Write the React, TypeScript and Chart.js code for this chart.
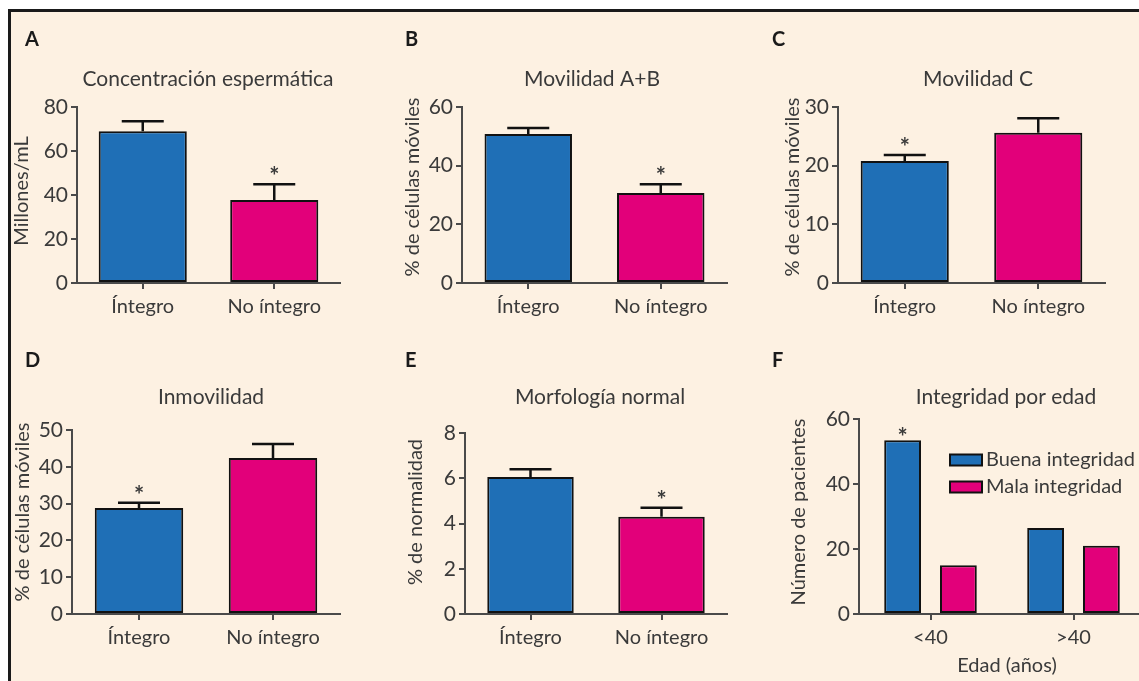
import React, { useEffect, useRef } from "react";
import { Chart, registerables } from "chart.js";
Chart.register(...registerables);

const FONT = "Lato, 'Open Sans', sans-serif";
const TEXT = "#3a3a3a";
const AXIS = "#4a4a4a";
const BLUE = "#1f6fb6";
const PINK = "#e2007a";
const CREAM = "#fdf1e2";

// ---- data ----
const groupLabels = ["Íntegro", "No íntegro"];
const concValues = [69, 37.7];
const concErr = [4.5, 7.2];
const concSig = [false, true];
const movABValues = [50.8, 30.7];
const movABErr = [2.0, 3.0];
const movABSig = [false, true];
const movCValues = [20.8, 25.6];
const movCErr = [1.0, 2.5];
const movCSig = [true, false];
const inmovValues = [28.8, 42.4];
const inmovErr = [1.4, 3.8];
const inmovSig = [true, false];
const morfValues = [6.05, 4.3];
const morfErr = [0.35, 0.4];
const morfSig = [false, true];
const ageLabels = ["<40", ">40"];
const buenaValues = [53.5, 26.5];
const malaValues = [15, 21];
const buenaSig = [true, false];
const malaSig = [false, false];

type Box = { left: number; top: number; width: number; height: number };
type Spec = {
  letter: string; letterPos: [number, number];
  title: string; titlePos: [number, number];
  yTitle: string; yTitlePos: [number, number];
  xTitle?: string; xTitlePos?: [number, number];
  labels: string[];
  datasets: { label: string; data: number[]; color: string | string[]; err?: number[]; sig?: boolean[] }[];
  yMax: number; yStep: number;
  box: Box; area: { left: number; right: number; top: number; bottom: number };
  barPct: number; catPct: number;
  legend?: { x: number; y: number; dy: number };
};

const twoColors = [BLUE, PINK];

const specs: Spec[] = [
  {
    letter: "A", letterPos: [25, 40], title: "Concentración espermática", titlePos: [208, 79],
    yTitle: "Millones/mL", yTitlePos: [22, 191], labels: groupLabels,
    datasets: [{ label: "A", data: concValues, color: twoColors, err: concErr, sig: concSig }],
    yMax: 80, yStep: 20, box: { left: 12, top: 12, width: 368, height: 328 },
    area: { left: 77, right: 340, top: 107, bottom: 283 }, barPct: 0.67, catPct: 1,
  },
  {
    letter: "B", letterPos: [405, 40], title: "Movilidad A+B", titlePos: [592, 79],
    yTitle: "% de células móviles", yTitlePos: [413, 187], labels: groupLabels,
    datasets: [{ label: "B", data: movABValues, color: twoColors, err: movABErr, sig: movABSig }],
    yMax: 60, yStep: 20, box: { left: 392, top: 12, width: 368, height: 328 },
    area: { left: 462, right: 727, top: 107, bottom: 283 }, barPct: 0.66, catPct: 1,
  },
  {
    letter: "C", letterPos: [772, 40], title: "Movilidad C", titlePos: [978, 79],
    yTitle: "% de células móviles", yTitlePos: [793, 187], labels: groupLabels,
    datasets: [{ label: "C", data: movCValues, color: twoColors, err: movCErr, sig: movCSig }],
    yMax: 30, yStep: 10, box: { left: 765, top: 12, width: 374, height: 328 },
    area: { left: 838, right: 1105, top: 107, bottom: 283 }, barPct: 0.66, catPct: 1,
  },
  {
    letter: "D", letterPos: [25, 361], title: "Inmovilidad", titlePos: [211, 397],
    yTitle: "% de células móviles", yTitlePos: [23, 512], labels: groupLabels,
    datasets: [{ label: "D", data: inmovValues, color: twoColors, err: inmovErr, sig: inmovSig }],
    yMax: 50, yStep: 10, box: { left: 12, top: 345, width: 368, height: 336 },
    area: { left: 72, right: 340, top: 430, bottom: 614 }, barPct: 0.66, catPct: 1,
  },
  {
    letter: "E", letterPos: [405, 361], title: "Morfología normal", titlePos: [600, 397],
    yTitle: "% de normalidad", yTitlePos: [416, 512], labels: groupLabels,
    datasets: [{ label: "E", data: morfValues, color: twoColors, err: morfErr, sig: morfSig }],
    yMax: 8, yStep: 2, box: { left: 392, top: 345, width: 368, height: 336 },
    area: { left: 465, right: 727, top: 433, bottom: 614 }, barPct: 0.66, catPct: 1,
  },
  {
    letter: "F", letterPos: [772, 361], title: "Integridad por edad", titlePos: [1006, 397],
    yTitle: "Número de pacientes", yTitlePos: [799, 512],
    xTitle: "Edad (años)", xTitlePos: [1007, 666], labels: ageLabels,
    datasets: [
      { label: "Buena integridad", data: buenaValues, color: BLUE, sig: buenaSig },
      { label: "Mala integridad", data: malaValues, color: PINK, sig: malaSig },
    ],
    yMax: 60, yStep: 20, box: { left: 765, top: 345, width: 390, height: 336 },
    area: { left: 859, right: 1145, top: 419, bottom: 614 }, barPct: 0.66, catPct: 0.78,
    legend: { x: 950, y: 460, dy: 27 },
  },
];

function Panel({ spec }: { spec: Spec }) {
  const ref = useRef<HTMLCanvasElement | null>(null);
  useEffect(() => {
    const canvas = ref.current;
    if (!canvas) return;
    const { box, area } = spec;
    const ox = box.left, oy = box.top;
    const yW = area.left - box.left;
    const xH = box.top + box.height - area.bottom;
    const overlay = {
      id: "overlay" + spec.letter,
      afterDatasetsDraw(chart: any) {
        const ctx = chart.ctx;
        const ys = chart.scales.y;
        ctx.save();
        chart.data.datasets.forEach((ds: any, di: number) => {
          const meta = chart.getDatasetMeta(di);
          const sd = spec.datasets[di];
          meta.data.forEach((bar: any, i: number) => {
            const v = ds.data[i];
            let topV = v;
            if (sd.err) {
              const e = sd.err[i];
              topV = v + e;
              const yTop = ys.getPixelForValue(v + e);
              ctx.strokeStyle = "#111";
              ctx.lineWidth = 2.5;
              ctx.beginPath();
              ctx.moveTo(bar.x, bar.y);
              ctx.lineTo(bar.x, yTop);
              ctx.moveTo(bar.x - 21, yTop);
              ctx.lineTo(bar.x + 21, yTop);
              ctx.stroke();
            }
            if (sd.sig && sd.sig[i]) {
              const yTop = ys.getPixelForValue(topV);
              ctx.fillStyle = TEXT;
              ctx.font = `bold 24px ${FONT}`;
              ctx.textAlign = "center";
              ctx.textBaseline = "alphabetic";
              ctx.fillText("*", bar.x, yTop + (sd.err ? 1 : 6));
            }
          });
        });
        ctx.restore();
      },
      afterDraw(chart: any) {
        const ctx = chart.ctx;
        ctx.save();
        ctx.fillStyle = "#1a1a1a";
        ctx.font = `bold 20px ${FONT}`;
        ctx.textAlign = "left";
        ctx.textBaseline = "middle";
        ctx.fillText(spec.letter, spec.letterPos[0] - ox, spec.letterPos[1] - oy);
        ctx.fillStyle = TEXT;
        ctx.font = `21px ${FONT}`;
        ctx.textAlign = "center";
        ctx.fillText(spec.title, spec.titlePos[0] - ox, spec.titlePos[1] - oy);
        ctx.font = `20px ${FONT}`;
        if (spec.xTitle && spec.xTitlePos) {
          ctx.fillText(spec.xTitle, spec.xTitlePos[0] - ox, spec.xTitlePos[1] - oy);
        }
        ctx.save();
        ctx.translate(spec.yTitlePos[0] - ox, spec.yTitlePos[1] - oy);
        ctx.rotate(-Math.PI / 2);
        ctx.fillText(spec.yTitle, 0, 0);
        ctx.restore();
        if (spec.legend) {
          const lg = spec.legend;
          chart.data.datasets.forEach((ds: any, di: number) => {
            const cy = lg.y + di * lg.dy - oy;
            const lx = lg.x - ox;
            ctx.fillStyle = ds.backgroundColor;
            ctx.fillRect(lx, cy - 5.5, 32, 11);
            ctx.strokeStyle = "#111";
            ctx.lineWidth = 2;
            ctx.strokeRect(lx, cy - 5.5, 32, 11);
            ctx.fillStyle = TEXT;
            ctx.textAlign = "left";
            ctx.fillText(ds.label, lx + 36, cy);
          });
        }
        ctx.restore();
      },
    };
    const chart = new Chart(canvas, {
      type: "bar",
      data: {
        labels: spec.labels,
        datasets: spec.datasets.map((d) => ({
          label: d.label,
          data: d.data,
          backgroundColor: d.color as any,
          borderColor: "#111",
          borderWidth: 2,
          borderSkipped: false,
          barPercentage: spec.barPct,
          categoryPercentage: spec.catPct,
        })),
      },
      options: {
        responsive: false,
        animation: false,
        devicePixelRatio: 1,
        layout: { padding: { left: 0, top: area.top - box.top, right: box.left + box.width - area.right, bottom: 0 } },
        plugins: { legend: { display: false }, tooltip: { enabled: false }, title: { display: false } },
        scales: {
          x: {
            offset: true,
            grid: { display: true, drawOnChartArea: false, drawTicks: true, tickLength: 6, offset: false, color: AXIS, lineWidth: 2 },
            border: { display: true, color: AXIS, width: 2 },
            ticks: { color: TEXT, font: { family: FONT, size: 20 }, padding: 6, maxRotation: 0 },
            afterFit: (s: any) => { s.height = xH; },
          },
          y: {
            min: 0, max: spec.yMax,
            grid: { display: true, drawOnChartArea: false, drawTicks: true, tickLength: 6, color: AXIS, lineWidth: 2 },
            border: { display: true, color: AXIS, width: 2 },
            ticks: { stepSize: spec.yStep, color: TEXT, font: { family: FONT, size: 21 }, padding: 3 },
            afterFit: (s: any) => { s.width = yW; },
          },
        },
      },
      plugins: [overlay as any],
    });
    return () => chart.destroy();
  }, [spec]);
  const { box } = spec;
  return (
    <canvas
      ref={ref}
      width={box.width}
      height={box.height}
      style={{ position: "absolute", left: box.left, top: box.top, width: box.width, height: box.height }}
    />
  );
}

export default function App() {
  return (
    <div style={{ position: "fixed", left: 0, top: 0, width: 1139, height: 681, background: "#ffffff", overflow: "hidden" }}>
      <div
        style={{
          position: "absolute", left: 8, top: 9, width: 1131, height: 672, background: CREAM,
          borderTop: "3px solid #1a1a1a", borderLeft: "3px solid #1a1a1a", boxSizing: "border-box",
        }}
      />
      {specs.map((s) => (
        <Panel key={s.letter} spec={s} />
      ))}
    </div>
  );
}
